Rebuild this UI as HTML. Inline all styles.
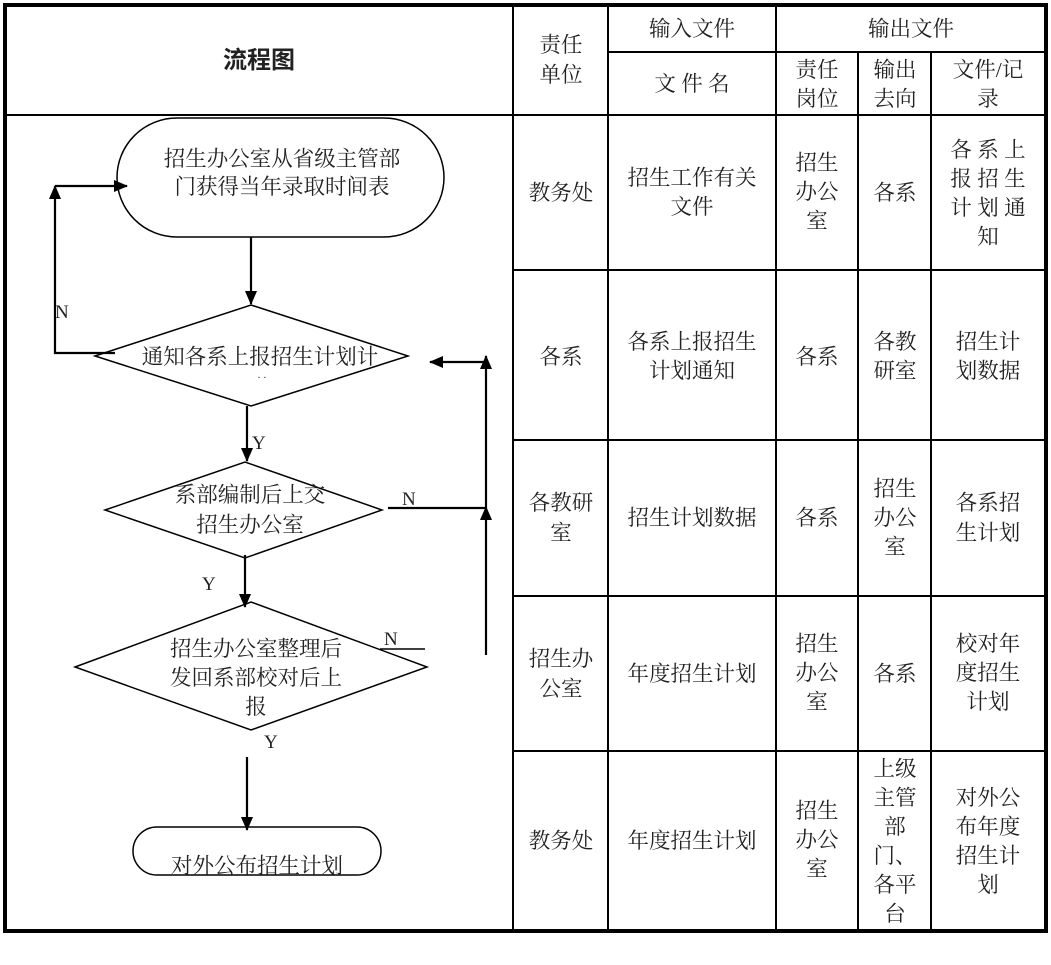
<!DOCTYPE html>
<html><head><meta charset="utf-8"><style>
body{margin:0;background:#fff}
svg{display:block}
text{font-family:"Liberation Serif","Noto Serif CJK SC",serif;font-size:21.5px;fill:#222}
.l{font-family:"Liberation Serif",serif;font-size:19px}
</style></head><body>
<svg width="1051" height="965" viewBox="0 0 1051 965" xmlns="http://www.w3.org/2000/svg">
<defs>
<marker id="b" markerWidth="14" markerHeight="12" refX="13" refY="6" orient="auto" markerUnits="userSpaceOnUse" viewBox="0 0 14 12"><path d="M0,0 L14,6 L0,12 z" fill="#000"/></marker></defs>
<g stroke="#000" stroke-width="2" fill="none">
<line x1="5" y1="115" x2="1046" y2="115"/>
<line x1="513" y1="5" x2="513" y2="931"/>
<line x1="608" y1="5" x2="608" y2="931"/>
<line x1="776" y1="5" x2="776" y2="931"/>
<line x1="858" y1="52" x2="858" y2="931"/>
<line x1="931" y1="52" x2="931" y2="931"/>
<line x1="608" y1="52" x2="1046" y2="52"/>
<line x1="513" y1="270" x2="1046" y2="270"/>
<line x1="513" y1="440" x2="1046" y2="440"/>
<line x1="513" y1="596" x2="1046" y2="596"/>
<line x1="513" y1="751" x2="1046" y2="751"/>
</g>
<rect x="5" y="5" width="1041" height="926" fill="none" stroke="#000" stroke-width="4"/>
<text x="259" y="68" text-anchor="middle" font-weight="bold" style="font-size:24px;font-family:'Noto Sans CJK SC',sans-serif">流程图</text>
<g text-anchor="middle">
<text x="561" y="52">责任</text><text x="561" y="82">单位</text>
<text x="692" y="36">输入文件</text>
<text x="692" y="91">文 件 名</text>
<text x="911" y="36">输出文件</text>
<text x="817" y="77">责任</text><text x="817" y="106">岗位</text>
<text x="895" y="77">输出</text><text x="895" y="106">去向</text>
<text x="988" y="77">文件/记</text><text x="988" y="106">录</text>
<text x="561" y="200">教务处</text>
<text x="692" y="185">招生工作有关</text><text x="692" y="214">文件</text>
<text x="817" y="170">招生</text><text x="817" y="199">办公</text><text x="817" y="228">室</text>
<text x="895" y="200">各系</text>
<text x="988" y="157">各 系 上</text><text x="988" y="186">报 招 生</text><text x="988" y="215">计 划 通</text><text x="988" y="244">知</text>
<text x="561" y="364">各系</text>
<text x="692" y="349">各系上报招生</text><text x="692" y="378">计划通知</text>
<text x="817" y="364">各系</text>
<text x="895" y="349">各教</text><text x="895" y="378">研室</text>
<text x="988" y="349">招生计</text><text x="988" y="378">划数据</text>
<text x="561" y="510">各教研</text><text x="561" y="540">室</text>
<text x="692" y="525">招生计划数据</text>
<text x="817" y="525">各系</text>
<text x="895" y="496">招生</text><text x="895" y="525">办公</text><text x="895" y="554">室</text>
<text x="988" y="510">各系招</text><text x="988" y="540">生计划</text>
<text x="561" y="666">招生办</text><text x="561" y="696">公室</text>
<text x="692" y="681">年度招生计划</text>
<text x="817" y="651">招生</text><text x="817" y="680">办公</text><text x="817" y="709">室</text>
<text x="895" y="681">各系</text>
<text x="988" y="651">校对年</text><text x="988" y="680">度招生</text><text x="988" y="709">计划</text>
<text x="561" y="848">教务处</text>
<text x="692" y="848">年度招生计划</text>
<text x="817" y="818">招生</text><text x="817" y="847">办公</text><text x="817" y="876">室</text>
<text x="895" y="776">上级</text><text x="895" y="805">主管</text><text x="895" y="834">部</text><text x="895" y="863">门、</text><text x="895" y="892">各平</text><text x="895" y="921">台</text>
<text x="988" y="805">对外公</text><text x="988" y="834">布年度</text><text x="988" y="863">招生计</text><text x="988" y="892">划</text>
</g>
<g fill="none" stroke="#000" stroke-width="1.5">
<rect x="117" y="118" width="327" height="119" rx="60"/>
<polygon points="95,356 251,305 408,356 251,406"/>
<polygon points="105,510 245,462 382,510 245,558"/>
<polygon points="75,667 251,602 427,667 251,730"/>
<rect x="133" y="827" width="248" height="48" rx="24"/>
</g>
<g stroke="#000" stroke-width="2.2" fill="none">
<line x1="251" y1="237" x2="251" y2="304" marker-end="url(#b)"/>
<polyline points="115,353 55,353 55,186" marker-end="url(#b)"/>
<line x1="55" y1="186" x2="127" y2="186" marker-end="url(#b)"/>
<line x1="247" y1="406" x2="247" y2="461" marker-end="url(#b)"/>
<line x1="245" y1="555" x2="245" y2="607" marker-end="url(#b)"/>
<line x1="247" y1="757" x2="247" y2="830" marker-end="url(#b)"/>
<line x1="388" y1="508" x2="486" y2="508"/>
<line x1="486" y1="655" x2="486" y2="507" marker-end="url(#b)"/>
<line x1="486" y1="507" x2="486" y2="356" marker-end="url(#b)"/>
<line x1="486" y1="362" x2="430" y2="362" marker-end="url(#b)"/>
<line x1="380" y1="649" x2="425" y2="649" stroke-width="1.5"/>
</g>
<g text-anchor="middle">
<text x="282" y="166">招生办公室从省级主管部</text>
<text x="282" y="194">门获得当年录取时间表</text>
<text x="260" y="364">通知各系上报招生计划计</text>
<text x="262" y="381" style="font-size:10px">· ·</text>
<text x="250" y="502">系部编制后上交</text>
<text x="250" y="532">招生办公室</text>
<text x="256" y="656">招生办公室整理后</text>
<text x="256" y="685">发回系部校对后上</text>
<text x="256" y="714">报</text>
<text x="257" y="873">对外公布招生计划</text>
</g>
<g class="l">
<text class="l" x="55" y="318">N</text>
<text class="l" x="252" y="449">Y</text>
<text class="l" x="402" y="505">N</text>
<text class="l" x="202" y="590">Y</text>
<text class="l" x="384" y="645">N</text>
<text class="l" x="264" y="748">Y</text>
</g>
</svg>
</body></html>
